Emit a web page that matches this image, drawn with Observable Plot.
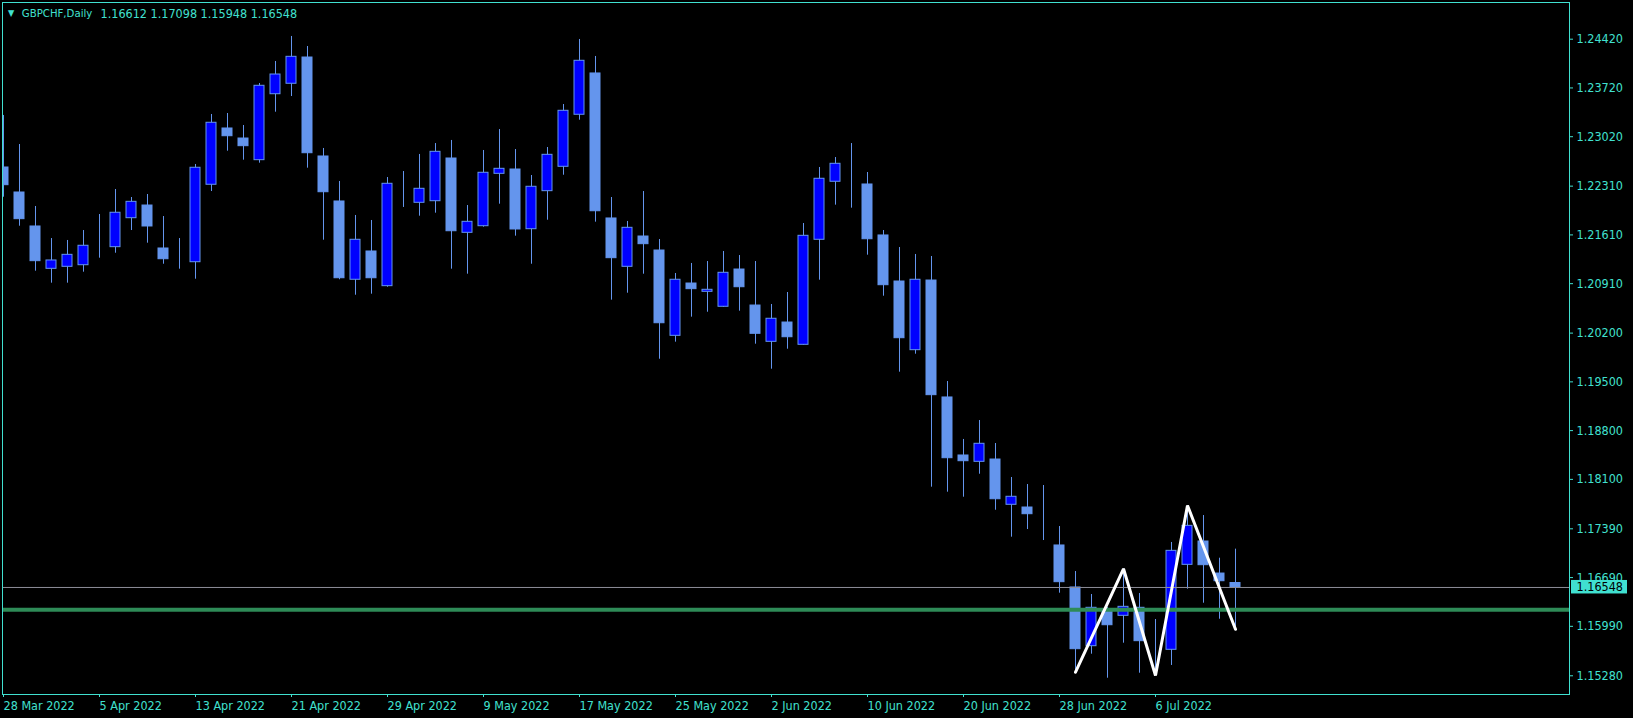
<!DOCTYPE html>
<html>
<head>
<meta charset="utf-8">
<script src="https://cdn.jsdelivr.net/npm/d3@7"></script>
<script src="https://cdn.jsdelivr.net/npm/@observablehq/plot@0.6"></script>
<style>
  html, body { margin: 0; padding: 0; background: #000; }
  #chart svg { display: block; }
</style>
</head>
<body>
<div id="chart"></div>
<script>
const symbolName = "GBPCHF,Daily";
const lastBar = [1.16612, 1.17098, 1.15948, 1.16548];

const opens = [1.22578,1.22219,1.21731,1.21123,1.21152,1.21175,1.21434,1.21434,1.21850,1.22032,
1.21415,1.21238,1.21218,1.22330,1.23138,1.22994,1.22683,1.23630,1.23780,1.24157,
1.22736,1.22090,1.20966,1.21372,1.20874,1.22085,1.22071,1.22094,1.22707,1.21640,
1.21735,1.22487,1.22549,1.21692,1.22238,1.22588,1.23335,1.23928,1.21846,1.21152,
1.21587,1.21386,1.20161,1.20912,1.20793,1.20578,1.21113,1.20596,1.20075,1.20352,
1.20032,1.21540,1.22373,1.22439,1.22334,1.21602,1.20941,1.19955,1.20955,1.19276,
1.18443,1.18352,1.18385,1.17735,1.17696,1.17255,1.17151,1.16548,1.15705,1.16199,
1.16141,1.16256,1.15643,1.15653,1.16873,1.17208,1.16748,1.16612];
const highs = [1.23325,1.22908,1.22018,1.21558,1.21530,1.21673,1.21903,1.22262,1.22147,1.22190,
1.21874,1.21558,1.22621,1.23339,1.23353,1.23181,1.23784,1.24100,1.24459,1.24315,
1.22851,1.22377,1.21889,1.21817,1.22434,1.22520,1.22765,1.22922,1.22966,1.22032,
1.22822,1.23123,1.22836,1.22463,1.22865,1.23482,1.24416,1.24172,1.22147,1.21803,
1.22233,1.21544,1.21056,1.21200,1.21228,1.21372,1.21314,1.21228,1.20611,1.20783,
1.21774,1.22578,1.22721,1.22922,1.22506,1.21673,1.21429,1.21329,1.21300,1.19505,
1.18673,1.18945,1.18615,1.18127,1.18026,1.18012,1.17423,1.16777,1.16447,1.16261,
1.16816,1.16461,1.16088,1.17194,1.17725,1.17581,1.16968,1.17098];
const lows = [1.22151,1.21735,1.21089,1.20917,1.20917,1.21075,1.21276,1.21347,1.21673,1.21491,
1.21189,1.21118,1.20974,1.22233,1.22812,1.22683,1.22640,1.23372,1.23597,1.22568,
1.21534,1.20966,1.20744,1.20759,1.20859,1.22004,1.21879,1.21922,1.21118,1.21046,
1.21721,1.22051,1.21592,1.21189,1.21821,1.22467,1.23257,1.21793,1.20673,1.20773,
1.21046,1.19825,1.20070,1.20429,1.20500,1.20570,1.20515,1.20041,1.19682,1.19969,
1.20027,1.20960,1.22037,1.21994,1.21319,1.20730,1.19639,1.19897,1.17988,1.17916,
1.17844,1.18174,1.17657,1.17270,1.17380,1.17222,1.16466,1.15331,1.15590,1.15245,
1.15748,1.15317,1.15284,1.15428,1.16523,1.16322,1.16092,1.15948];
const closes = [1.22324,1.21836,1.21233,1.21243,1.21324,1.21454,1.21434,1.21928,1.22085,1.21731,
1.21261,1.21238,1.22574,1.23220,1.23027,1.22884,1.23751,1.23913,1.24167,1.22783,
1.22223,1.20988,1.21540,1.20988,1.22344,1.22085,1.22272,1.22803,1.21663,1.21798,
1.22502,1.22559,1.21688,1.22301,1.22760,1.23392,1.24110,1.21950,1.21276,1.21712,
1.21477,1.20342,1.20966,1.20831,1.20822,1.21066,1.20859,1.20190,1.20406,1.20141,
1.21597,1.22416,1.22631,1.22439,1.21548,1.20888,1.20127,1.20966,1.19309,1.18404,
1.18361,1.18611,1.17815,1.17850,1.17600,1.17255,1.16624,1.15662,1.16256,1.16006,
1.16270,1.15777,1.15643,1.17074,1.17433,1.16868,1.16638,1.16548];

const xTickIdx = [0, 6, 12, 18, 24, 30, 36, 42, 48, 54, 60, 66, 72];
const xTickLabels = ["28 Mar 2022","5 Apr 2022","13 Apr 2022","21 Apr 2022","29 Apr 2022","9 May 2022",
  "17 May 2022","25 May 2022","2 Jun 2022","10 Jun 2022","20 Jun 2022","28 Jun 2022","6 Jul 2022"];
const yTicks = [1.24420,1.23720,1.23020,1.22310,1.21610,1.20910,1.20200,1.19500,1.18800,1.18100,1.17390,1.16690,1.15990,1.15280];

const zigzagIdx = [67, 70, 72, 74, 77];
const zigzagPrice = [1.15331, 1.16816, 1.15284, 1.17725, 1.15948];
const levelPrice = 1.16228;
const lastClose = lastBar[3];

const TURQ = "#40E0D0";
const BULL = "#0000FF";
const BEAR = "#6495ED";
const FONT = "'DejaVu Sans Condensed', 'DejaVu Sans', sans-serif";
const fmt5 = d3.format(".5f");
const xDomain = [-0.0625, 97.875];
const yDomain = [1.150113, 1.249469];

const candles = opens.map((o, i) => ({i, o, h: highs[i], l: lows[i], c: closes[i]}));
const zz = zigzagIdx.map((i, k) => ({i, p: zigzagPrice[k]}));
const labelOf = new Map(xTickIdx.map((d, k) => [d, xTickLabels[k]]));

// current-price tag on the right axis (box + text), positioned from the scales
function priceTag(index, scales) {
  const y = scales.y(lastClose);
  const x0 = scales.x(xDomain[1]);
  const g = d3.create("svg:g")
    .attr("font-family", FONT).attr("font-size", "12.5px").attr("font-stretch", "condensed")
    .attr("text-anchor", "start");
  g.append("rect").attr("x", x0 + 2).attr("y", y - 7).attr("width", 56).attr("height", 13.5).attr("fill", TURQ);
  g.append("text").attr("x", x0 + 7.5).attr("y", y).attr("dy", "0.32em")
    .attr("text-anchor", "start").attr("fill", "#000").text(fmt5(lastClose));
  return g.node();
}

const svg = Plot.plot({
  width: 1633,
  height: 718,
  marginLeft: 2,
  marginRight: 64,
  marginTop: 2,
  marginBottom: 24,
  style: {background: "#000", color: TURQ, fontFamily: FONT, fontSize: "12.5px", fontStretch: "condensed"},
  x: {domain: xDomain, axis: null, label: null},
  y: {domain: yDomain, axis: null, label: null},
  marks: [
    Plot.ruleX(candles, {x: "i", y1: "l", y2: "h", stroke: BEAR, clip: true}),
    Plot.rect(candles, {
      x1: d => d.i - 0.3125, x2: d => d.i + 0.3125, y1: "o", y2: "c",
      fill: d => d.c > d.o ? BULL : BEAR, stroke: BEAR, clip: true
    }),
    Plot.ruleY([lastClose], {stroke: "#8C8C98", strokeWidth: 1}),
    Plot.ruleY([levelPrice], {stroke: "#2E8B57", strokeWidth: 4}),
    Plot.line(zz, {x: "i", y: "p", stroke: "#FFFFFF", strokeWidth: 3, strokeLinejoin: "miter", clip: true}),
    Plot.frame({stroke: TURQ}),
    Plot.axisY(yTicks, {anchor: "right", tickSize: 3, tickPadding: 4, tickFormat: fmt5, color: TURQ, label: null}),
    Plot.axisX(xTickIdx, {anchor: "bottom", tickSize: 3, tickPadding: 4, tickFormat: d => labelOf.get(d), textAnchor: "start", color: TURQ, label: null}),
    Plot.text(["\u25BC"], {text: d => d, frameAnchor: "top-left", dx: 8.5, dy: 10.5, textAnchor: "middle", lineAnchor: "middle", fill: TURQ, fontSize: 9}),
    Plot.text([symbolName], {text: d => d, frameAnchor: "top-left", dx: 19.3, dy: 11.3, textAnchor: "start", lineAnchor: "middle", fill: TURQ, fontSize: 11.3}),
    Plot.text([lastBar.map(fmt5).join(" ")], {text: d => d, frameAnchor: "top-left", dx: 98, dy: 11.3, textAnchor: "start", lineAnchor: "middle", fill: TURQ}),
    priceTag
  ]
});

document.getElementById("chart").appendChild(svg);
</script>
</body>
</html>
